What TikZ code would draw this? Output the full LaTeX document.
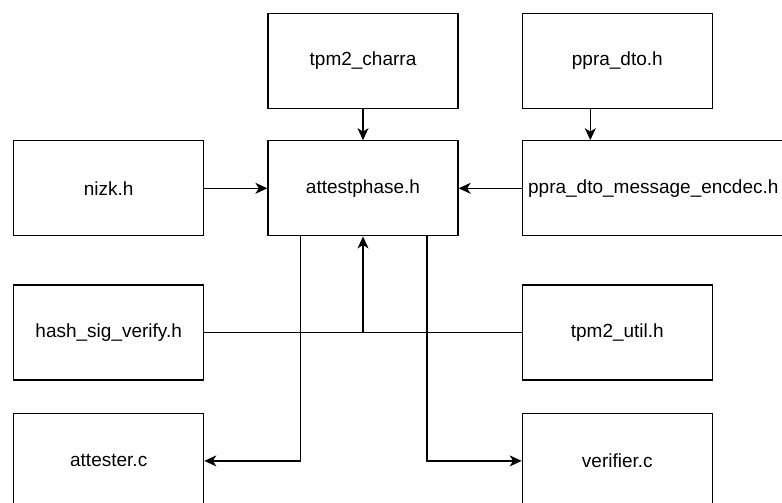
\documentclass[tikz,border=0pt]{standalone}
\usepackage{fontspec}
\setmainfont{Liberation Sans}
\usetikzlibrary{arrows.meta, positioning}

\begin{document}
\begin{tikzpicture}[x=1pt,y=-1pt,>={Stealth[length=12pt,width=11pt,inset=3.5pt]},line width=1.3pt,
    filebox/.style={draw, minimum width=190pt, minimum height=95pt, inner sep=0pt,
      font=\fontsize{19}{22}\selectfont}]
  \useasboundingbox (0,0) rectangle (782,503);
% define the files
  \node[filebox] 	(charra) at (363,61)			{tpm2\_charra};
  \node[filebox]	(attest) [below=31pt of charra]		{attestphase.h};
  \node[filebox]	(nizk) [left=63pt of attest]		{nizk.h};
  \node[filebox, minimum width=262pt] (encdec) [right=63pt of attest]	{ppra\_dto\_message\_encdec.h};
  \node[filebox]	(dto) [above right=31pt and 0pt of encdec.north west]	{ppra\_dto.h};
  \node[filebox]	(hash) [below=48pt of nizk]		{hash\_sig\_verify.h};
  \node[filebox]	(util) [below right=48pt and 0pt of encdec.south west]	{tpm2\_util.h};
  \node[filebox]	(attester) [below=32pt of hash]		{attester.c};
  \node[filebox]	(verifier) [below=32pt of util]		{verifier.c};

% define the links
  \coordinate (merge) at (hash -| attest);
  \coordinate (dtoout) at ([xshift=-27pt]dto.south);
  \draw[->] (charra) -- (attest);
  \draw[->] (dtoout) -- (dtoout |- encdec.north);
  \draw[->] (nizk) -- (attest);
  \draw[->] (encdec) -- (attest);
  \draw (hash) -- (util);
  \draw[->] (merge) -- (attest);
  \draw[->] ([xshift=-62.5pt]attest.south) |- (attester);
  \draw[->] ([xshift=64pt]attest.south) |- (verifier);

\end{tikzpicture}
\end{document}
